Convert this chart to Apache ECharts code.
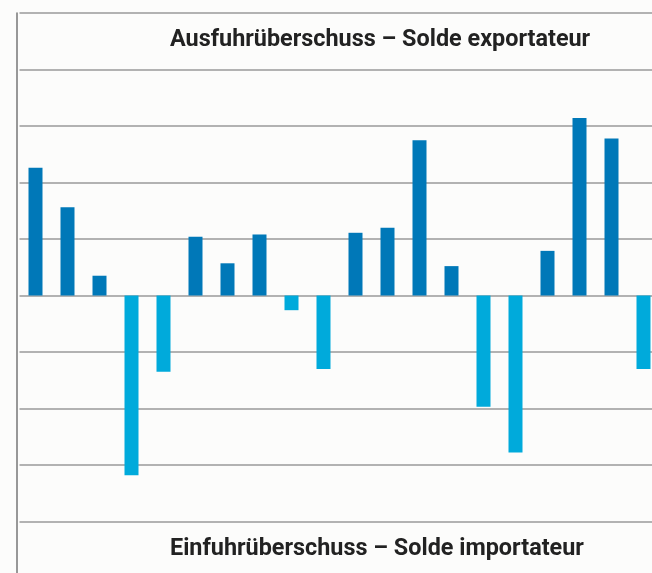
<!DOCTYPE html>
<html><head><meta charset="utf-8">
<script src="https://cdn.jsdelivr.net/npm/echarts@6/dist/echarts.min.js"></script>
<style>html,body{margin:0;padding:0;background:#fcfcfb}#c{width:652px;height:573px}</style>
</head><body><div id="c"></div>
<script>
const categories = ['1','2','3','4','5','6','7','8','9','10','11','12','13','14','15','16','17','18','19','20'];
const balance = [2.26, 1.56, 0.35, -3.18, -1.35, 1.04, 0.57, 1.08, -0.26, -1.30, 1.11, 1.20, 2.75, 0.52, -1.97, -2.78, 0.79, 3.14, 2.78, -1.30];
const topLabel = 'Ausfuhrüberschuss – Solde exportateur';
const bottomLabel = 'Einfuhrüberschuss – Solde importateur';
const exportColor = '#0078b8';
const importColor = '#00aadb';

const chart = echarts.init(document.getElementById('c'));
const ts = {fontFamily: 'Roboto', fontWeight: 'bold', fontSize: 23.4, color: '#222'};
chart.setOption({
  backgroundColor: '#fcfcfb',
  animation: false,
  title: [
    {text: topLabel, left: 170, top: 29, padding: 0, textStyle: ts},
    {text: bottomLabel, left: 170, top: 538, padding: 0, textStyle: ts}
  ],
  grid: {left: 19.5, width: 640, top: 13, height: 565, outerBoundsMode: 'none', containLabel: false},
  xAxis: {
    type: 'category', data: categories,
    axisLine: {show: false}, axisTick: {show: false}, axisLabel: {show: false}
  },
  yAxis: {
    type: 'value', min: -5, max: 5, interval: 1, offset: 2.5,
    axisLine: {show: true, lineStyle: {color: '#777', width: 1.5}},
    axisTick: {show: false}, axisLabel: {show: false},
    splitLine: {lineStyle: {color: '#9a9a9a', width: 1.5}}
  },
  series: [{
    type: 'bar', data: balance, barWidth: 14,
    itemStyle: {color: p => p.value >= 0 ? exportColor : importColor}
  }]
});
</script></body></html>
